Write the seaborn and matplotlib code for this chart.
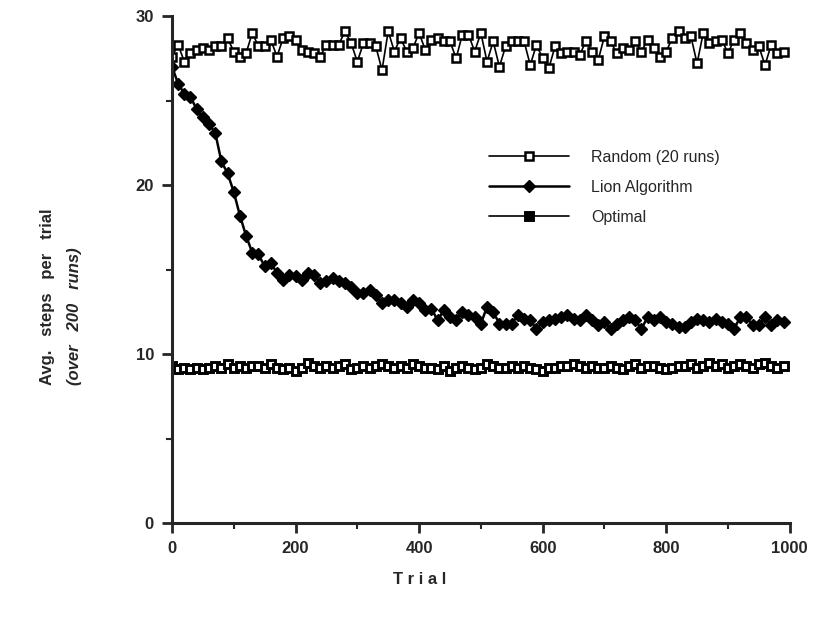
import matplotlib
matplotlib.use("Agg")
import matplotlib.pyplot as plt
import seaborn as sns
from matplotlib.ticker import MultipleLocator

# Data (one point every 10 trials)
trials = list(range(0, 1000, 10))

random_20 = [
    27.6, 28.3, 27.3, 27.8, 28.0, 28.1, 28.0, 28.2, 28.2, 28.7,
    27.9, 27.6, 27.8, 29.0, 28.2, 28.2, 28.6, 27.6, 28.7, 28.8,
    28.6, 28.0, 27.9, 27.8, 27.6, 28.3, 28.3, 28.3, 29.1, 28.4,
    27.3, 28.4, 28.4,
    28.2, 26.8, 29.1, 27.9, 28.7, 27.9, 28.1, 29.0, 28.0, 28.6,
    28.7, 28.5, 28.5, 27.5, 28.9, 28.9, 27.9, 29.0, 27.3, 28.5,
    27.0, 28.2, 28.5, 28.5, 28.5, 27.1, 28.3, 27.5, 26.9, 28.2,
    27.8, 27.9, 27.9, 27.7, 28.5,
    27.9, 27.4, 28.8, 28.5, 27.8, 28.1, 28.0, 28.5, 27.9, 28.6,
    28.1, 27.6, 27.9, 28.7, 29.1, 28.7, 28.8, 27.2, 29.0, 28.4,
    28.5, 28.6, 27.8, 28.6, 29.0, 28.4, 28.0, 28.2, 27.1, 28.3,
    27.8, 27.9,
]

lion = [
    27.0, 26.0, 25.4, 25.2, 24.5, 24.0, 23.6, 23.1, 21.4, 20.7,
    19.6, 18.2, 17.0, 16.0, 15.9, 15.2, 15.4, 14.8, 14.4, 14.7,
    14.6, 14.4, 14.8, 14.7, 14.2, 14.3, 14.5, 14.3, 14.2, 14.0,
    13.6, 13.6, 13.8, 13.5, 13.0, 13.2, 13.2, 13.0, 12.8, 13.2,
    13.0, 12.6, 12.7, 12.0, 12.6, 12.2, 12.0, 12.5, 12.3, 12.2,
    11.8, 12.8, 12.5, 11.8, 11.8, 11.8, 12.3, 12.1, 12.0, 11.5,
    11.9, 12.0, 12.1, 12.2, 12.3, 12.1,
    12.0, 12.3, 12.0, 11.7, 11.9, 11.5, 11.8, 12.0, 12.2, 12.0,
    11.5, 12.2, 12.0, 12.2, 11.9, 11.8, 11.6, 11.6, 11.9, 12.1,
    12.0, 11.9, 12.1, 11.9, 11.8, 11.5, 12.2, 12.2, 11.7, 11.7,
    12.2, 11.7, 12.0, 11.9,
]

optimal = [
    9.3, 9.1, 9.2, 9.1, 9.2, 9.1, 9.2, 9.3, 9.2, 9.4,
    9.2, 9.3, 9.2, 9.3, 9.3, 9.2, 9.4, 9.2, 9.1, 9.2,
    9.0, 9.2, 9.5, 9.3, 9.2, 9.3, 9.2, 9.3, 9.4, 9.1,
    9.2, 9.3, 9.2, 9.3, 9.4, 9.3, 9.2, 9.3, 9.2, 9.4,
    9.3, 9.2, 9.2, 9.1, 9.3, 9.0, 9.2, 9.3, 9.2, 9.1,
    9.2, 9.4, 9.3, 9.2, 9.2, 9.3, 9.2, 9.3, 9.2, 9.1,
    9.0, 9.2, 9.2, 9.3, 9.3, 9.4, 9.3, 9.2, 9.3, 9.2,
    9.2, 9.3, 9.2, 9.1, 9.3, 9.4, 9.2, 9.3, 9.3, 9.2,
    9.1, 9.2, 9.3, 9.3, 9.4, 9.2, 9.3, 9.5, 9.3, 9.4,
    9.2, 9.3, 9.4, 9.3, 9.2, 9.4, 9.5, 9.3, 9.2, 9.3,
]

labels = ["Random (20 runs)", "Lion Algorithm", "Optimal"]

sns.set_style("ticks")
plt.rcParams["font.family"] = ["Liberation Sans", "DejaVu Sans"]

fig = plt.figure(figsize=(8.15, 6.17), dpi=100)
ax = fig.add_axes([0.211, 0.152, 0.758, 0.822])

sns.lineplot(x=trials, y=random_20, ax=ax, color="black", linewidth=1.2,
             marker="s", markersize=5.5, markerfacecolor="white",
             markeredgecolor="black", markeredgewidth=1.8, label=labels[0])
sns.lineplot(x=trials, y=lion, ax=ax, color="black", linewidth=1.8,
             marker="D", markersize=6.5, markerfacecolor="black",
             markeredgecolor="black", markeredgewidth=1.0, label=labels[1])
sns.lineplot(x=trials, y=optimal, ax=ax, color="black", linewidth=1.2,
             marker="s", markersize=5.2, markerfacecolor="white",
             markeredgecolor="black", markeredgewidth=2.1, label=labels[2])

ax.set_xlim(0, 1000)
ax.set_ylim(0, 30)
ax.xaxis.set_major_locator(MultipleLocator(200))
ax.xaxis.set_minor_locator(MultipleLocator(100))
ax.yaxis.set_major_locator(MultipleLocator(10))
ax.yaxis.set_minor_locator(MultipleLocator(5))
ax.tick_params(which="major", direction="out", length=7, width=2,
               labelsize=12, pad=6)
ax.tick_params(which="minor", direction="out", length=4, width=1.5)
for lab in ax.get_xticklabels() + ax.get_yticklabels():
    lab.set_fontweight("bold")

sns.despine(ax=ax)
for side in ["left", "bottom"]:
    ax.spines[side].set_linewidth(2.2)
ax.set_xlabel("")
ax.set_ylabel("")

# legend with long handles, no frame
leg = ax.legend(loc="upper left", bbox_to_anchor=(0.49, 0.765), frameon=False,
                handlelength=5.0, handletextpad=1.4, labelspacing=0.95,
                fontsize=11.5)
leg.legend_handles[2].set_markerfacecolor("black")

# axis titles
fig.text(0.515, 0.06, "T r i a l", ha="center", va="center",
         fontsize=12, fontweight="bold")
fig.text(0.058, 0.376, "Avg.   steps   per   trial", rotation=90, ha="center",
         va="bottom", fontsize=12, fontweight="bold")
fig.text(0.092, 0.376, "(over   200   runs)", rotation=90, ha="center",
         va="bottom", fontsize=12, fontweight="bold", style="italic")

fig.savefig("out.png", dpi=100)
